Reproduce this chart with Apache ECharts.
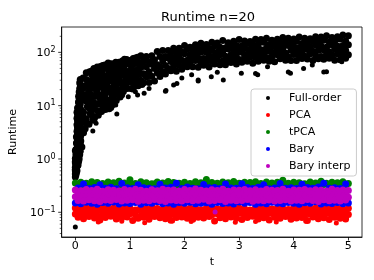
<!DOCTYPE html>
<html><head><meta charset="utf-8">
<script src="https://cdn.jsdelivr.net/npm/echarts@6/dist/echarts.min.js"></script>
<style>html,body{margin:0;padding:0;background:#fff}#c{width:374px;height:280px}</style>
</head><body><div id="c"></div>
<script>
// ---------- texts / ticks ----------
const titleText = 'Runtime n=20';
const xName = 't';
const yName = 'Runtime';
const seriesNames = ['Full-order', 'PCA', 'tPCA', 'Bary', 'Bary interp'];
const seriesColors = ['#000000', '#ff0000', '#008000', '#0000ff', '#bf00bf'];
const xTicks = [0, 1, 2, 3, 4, 5];
const xMin = -0.25, xMax = 5.25;
const yMin = 0.0344, yMax = 299;
const yMajorTicks = [0.1, 1, 10, 100];
const yMinorTicks = [0.04,0.05,0.06,0.07,0.08,0.09,0.2,0.3,0.4,0.5,0.6,0.7,0.8,0.9,2,3,4,5,6,7,8,9,20,30,40,50,60,70,80,90,200];

// ---------- sample times ----------
const tA = [0,0.1,0.2,0.3,0.4,0.5,0.6,0.7,0.8,0.9,1,1.1,1.2,1.3,1.4,1.5,1.6,1.7,1.8,1.9,2,2.1,2.2,2.3,2.4,2.5,2.6,2.7,2.8,2.9,3,3.1,3.2,3.3,3.4,3.5,3.6,3.7,3.8,3.9,4,4.1,4.2,4.3,4.4,4.5,4.6,4.7,4.8,4.9,5];
const tB = [0.05,0.15,0.25,0.35,0.45,0.55,0.65,0.75,0.85,0.95,1.05,1.15,1.25,1.35,1.45,1.55,1.65,1.75,1.85,1.95,2.05,2.15,2.25,2.35,2.45,2.55,2.65,2.75,2.85,2.95,3.05,3.15,3.25,3.35,3.45,3.55,3.65,3.75,3.85,3.95,4.05,4.15,4.25,4.35,4.45,4.55,4.65,4.75,4.85,4.95];

// ---------- Full-order ----------
const fullA1 = [1.43,23.3,41.4,44.5,53.0,56.8,63.3,59.5,65.5,74.6,70.4,78.5,86,84,86,104,108,108,120,120,134,125,139,149,141,155,150,167,152,162,174,164,159,176,174,183,169,176,190,183,178,195,184,180,197,195,205,190,196,212,205];
const fullB2 = [6.6,21.5,26.4,32.7,37.0,35.5,43.8,46.8,49.2,60.6,58.3,63,69,67,73,84,83.3,97.8,99.2,102,116,109,117,123,119,131,125,122,135,135,133,146,142,140,154,140,145,152,151,146,162,146,158,163,156,168,156,164,178,163];
const fullA3 = [0.90,8.5,15.3,20.9,21.3,25.0,28.9,30.4,34.8,44.6,44.1,45.8,52.0,54.0,59.7,58.5,69,78,79.5,81,93.7,89.8,91.7,100,100.5,108,100,104,116,110,109,118,114,123,112,121,127,121,119,134,129,123,133,129,137,132,125,139,132,135,139];
const fullB4 = [2.32,7.5,11.3,15.0,15.8,17.6,21.0,24.0,27.1,34.6,36.1,40.2,39.5,43.3,49.8,53.3,56.5,67.5,66.1,71.3,71.3,81.3,78.2,76.8,85.6,85.2,90.5,84.8,90.5,91,101,92,97,100.5,95,105,99.4,103,97,109,106,105,113,105,109,111,103,115,108,110];
const fullA5 = [0.64,2.79,5.70,8.31,10.7,11.2,12.6,15.2,19.6,22.6,28.1,29.0,29.9,34.7,35.7,41.6,43.4,49.8,56.2,56.8,58.0,64.6,70.4,64.0,68.1,67.9,74,69.2,73.6,77,73.4,83,80.6,79.8,85.6,79.8,83.6,90.5,83.6,83,91,88.6,85.6,94.6,87.4,84,92.3,89.8,93.3,86.8,89.8];
const fullB6 = [0.77,3.12,4.46,5.83,7.65,8.45,9.2,12.5,16.0,21.0,20.6,23.6,26.8,27.3,29.0,35.4,39.2,45.4,44.3,48.1,53.7,53.7,52.5,57.2,53.3,60.3,58.8,58.8,64.6,60.8,65.5,68,62.5,68,71.5,68,67,75.5,71.5,70.6,70,77,74.7,70.6,76,74,77.7,71,72.5,77.5];
const fullStart = [[0,0.053],[0,0.46],[0,0.52],[0,0.6],[0,0.7],[0,0.85],[0,1.02],
 [0.01,0.5],[0.01,0.62],[0.01,0.78],[0.01,0.95],[0.01,1.2],[0.01,1.5],
 [0.02,0.55],[0.02,0.7],[0.02,0.9],[0.02,1.15],[0.02,1.5],[0.02,2.0],[0.02,2.6],
 [0.03,0.6],[0.03,0.8],[0.03,1.05],[0.03,1.4],[0.03,1.9],[0.03,2.5],[0.03,3.3],[0.03,4.4],[0.03,5.8],[0.03,7.5],
 [0.04,0.75],[0.04,1.0],[0.04,1.3],[0.04,1.7],[0.04,2.3],[0.04,3.0],[0.04,4.0],[0.04,5.2],[0.04,7.0],[0.04,9.0],
 [0.06,0.9],[0.06,1.2],[0.06,1.6],[0.06,2.1],[0.06,2.8],[0.06,3.7],[0.06,4.9],[0.06,6.5],[0.06,8.6],[0.06,11.5],[0.06,15],
 [0.07,1.0],[0.07,1.4],[0.07,1.9],[0.07,2.5],[0.07,3.3],[0.07,4.4],[0.07,5.8],[0.07,7.7],[0.07,10],[0.07,13.5],[0.07,18],
 [0.08,1.2],[0.08,1.6],[0.08,2.2],[0.08,2.9],[0.08,3.9],[0.08,5.2],[0.08,6.9],[0.08,9.2],[0.08,12],[0.08,16],[0.08,21],[0.08,27],
 [0.09,1.4],[0.09,1.9],[0.09,2.5],[0.09,3.4],[0.09,4.5],[0.09,6.0],[0.09,8.0],[0.09,10.5],[0.09,14],[0.09,19],[0.09,25],[0.09,31]];
const fullEarly = [[0.11,14.2],[0.09,4.9],[0.12,1.67],[0.19,24.0],[0.22,9.5],[0.18,3.7],
 [0.31,30.5],[0.28,12.9],[0.32,5.35],[0.41,34.5],[0.38,15.1],[0.42,6.6],
 [0.49,38.2],[0.52,17.3],[0.48,7.8],[0.61,40.5],[0.58,19.0],[0.62,8.8],
 [0.69,43.5],[0.72,21.3],[0.68,10.4],[0.81,49.2],[0.78,26.6],[0.82,14.5],
 [0.89,54.6],[0.92,31.6],[0.88,18.5],[1.01,58.2],[0.98,35.0],[1.02,21.0],
 [1.09,61.5],[1.12,37.3],[1.08,22.8],[1.21,64.5],[1.18,39.8],[1.22,24.9],
 [0.06,11.7],[0.04,3.94],[0.05,1.33],[0.14,33.2],[0.16,12.7],[0.13,4.84],
 [0.26,43.4],[0.24,17.6],[0.27,7.1],[0.34,49.7],[0.36,21.4],[0.33,9.3],
 [0.46,54.2],[0.44,24.0],[0.47,10.8],[0.54,58],[0.56,26.9],[0.53,12.4],
 [0.66,61],[0.64,29],[0.67,13.8],[0.74,65],[0.76,33.3],[0.73,17.1],
 [0.86,68.5],[0.84,38.7],[0.87,21.8],[0.94,73.4],[0.96,43.6],[0.93,26],
 [1.06,76.8],[1.04,46.3],[1.07,28],[1.14,81],[1.16,49.3],[1.13,30],
 [0.1,18.7],[0.11,6.4],[0.1,2.18],[0.2,31.1],[0.21,12.0],[0.2,4.7],
 [0.3,38.2],[0.29,16.0],[0.3,6.7],[0.4,42.1],[0.39,18.5],[0.4,8.1],
 [0.5,46.6],[0.51,21.1],[0.5,9.5],[0.6,49],[0.59,23.0],[0.6,10.6],
 [0.7,52.2],[0.71,25.4],[0.7,12.4],[0.8,57.4],[0.79,31],[0.8,16.8],
 [0.9,62.6],[0.91,36.5],[0.9,21.2],[0.05,5.15],[0.06,1.74],
 [0.15,16.2],[0.14,6.2],[0.25,22],[0.26,8.9],[0.35,26.3],[0.34,11.5],
 [0.45,29.4],[0.46,13.1],[0.55,32.5],[0.54,15.1],[0.65,35],[0.66,16.7],
 [0.75,39.5],[0.74,20.2],[0.85,44.7],[0.86,25.2]];
const fullSparse = [[0.32,3.35],[0.38,4.7],[0.74,10.3],[0.76,7.0],[0.97,14.7],[1.1,18.3],[1.14,15.9],[1.26,17.1],[1.35,21.1],[1.65,18.6],[1.66,19.2],[1.8,24.4],[1.86,26],[1.95,33],[2.13,38],[2.25,29],[2.25,30.4],[2.49,35],[2.6,42.5],[2.71,30.4],[3.04,40.5],[3.3,40],[3.34,38],[3.52,54],[3.9,43],[3.94,40.5],[4.18,50],[4.34,58],[4.55,43],[4.6,43.3],[4.88,67]];

// ---------- PCA ----------
const pcaA1 = [0.121,0.115,0.122,0.118,0.112,0.125,0.117,0.120,0.114,0.123,0.119,0.111,0.121,0.116,0.127,0.118,0.113,0.121,0.117,0.124,0.115,0.119,0.122,0.112,0.120,0.125,0.116,0.118,0.123,0.114,0.121,0.117,0.111,0.122,0.119,0.126,0.115,0.120,0.118,0.113,0.124,0.117,0.121,0.116,0.120,0.114,0.123,0.118,0.121,0.115,0.119];
const pcaB2 = [0.102,0.107,0.099,0.105,0.109,0.101,0.104,0.108,0.098,0.106,0.103,0.110,0.100,0.105,0.102,0.108,0.097,0.104,0.107,0.101,0.106,0.099,0.108,0.103,0.105,0.109,0.100,0.104,0.102,0.107,0.098,0.105,0.108,0.101,0.104,0.106,0.100,0.108,0.103,0.099,0.105,0.110,0.102,0.106,0.101,0.104,0.108,0.100,0.105,0.103];
const pcaA3 = [0.093,0.088,0.095,0.090,0.086,0.092,0.097,0.089,0.091,0.087,0.094,0.090,0.085,0.093,0.088,0.096,0.091,0.087,0.092,0.089,0.095,0.086,0.091,0.093,0.088,0.090,0.094,0.087,0.092,0.089,0.096,0.090,0.086,0.093,0.091,0.088,0.095,0.089,0.092,0.087,0.094,0.090,0.088,0.093,0.091,0.086,0.095,0.089,0.092,0.088,0.091];
const pcaB4 = [0.081,0.076,0.083,0.078,0.072,0.080,0.084,0.075,0.079,0.082,0.070,0.077,0.081,0.074,0.083,0.079,0.076,0.071,0.080,0.082,0.077,0.074,0.081,0.078,0.083,0.069,0.079,0.076,0.082,0.077,0.073,0.080,0.084,0.075,0.079,0.072,0.081,0.077,0.083,0.074,0.078,0.080,0.070,0.082,0.076,0.079,0.073,0.081,0.077,0.075];
const pcaExtra = [[0.42,0.066],[0.85,0.068],[1.27,0.064],[1.78,0.069],[2.12,0.067],[2.93,0.065],[3.3,0.067],[3.68,0.066],[4.22,0.068],[4.78,0.063]];

// ---------- tPCA ----------
const tpcaA1 = [0.356,0.368,0.350,0.375,0.362,0.345,0.371,0.359,0.381,0.353,0.407,0.348,0.373,0.360,0.343,0.369,0.355,0.378,0.364,0.351,0.367,0.346,0.376,0.358,0.412,0.363,0.352,0.372,0.357,0.379,0.349,0.367,0.361,0.374,0.345,0.370,0.354,0.365,0.400,0.350,0.368,0.360,0.344,0.371,0.356,0.382,0.352,0.367,0.359,0.373,0.348];
const tpcaB2 = [0.326,0.318,0.334,0.322,0.330,0.314,0.328,0.336,0.320,0.325,0.332,0.316,0.327,0.323,0.338,0.319,0.329,0.324,0.313,0.331,0.326,0.321,0.335,0.317,0.328,0.324,0.333,0.319,0.327,0.322,0.330,0.315,0.326,0.334,0.320,0.329,0.323,0.318,0.331,0.325,0.321,0.336,0.317,0.328,0.324,0.332,0.319,0.327,0.322,0.330];

// ---------- Bary ----------
const baryB1 = [0.285,0.340,0.278,0.292,0.330,0.281,0.296,0.275,0.345,0.288,0.279,0.327,0.290,0.283,0.276,0.336,0.287,0.294,0.350,0.280,0.298,0.284,0.277,0.332,0.289,0.293,0.279,0.338,0.286,0.282,0.342,0.291,0.280,0.295,0.328,0.276,0.287,0.347,0.283,0.290,0.278,0.334,0.292,0.281,0.297,0.352,0.284,0.288,0.279,0.339];
const baryA2 = [0.150,0.144,0.154,0.147,0.142,0.152,0.148,0.156,0.143,0.149,0.146,0.153,0.142,0.151,0.147,0.157,0.145,0.150,0.141,0.152,0.147,0.155,0.144,0.148,0.151,0.141,0.153,0.146,0.149,0.143,0.156,0.147,0.152,0.142,0.150,0.145,0.154,0.148,0.144,0.152,0.147,0.141,0.151,0.148,0.157,0.143,0.149,0.146,0.153,0.145,0.150];

// ---------- Bary interp ----------
const interpA1 = [0.261,0.253,0.269,0.257,0.272,0.249,0.264,0.259,0.251,0.267,0.255,0.271,0.259,0.247,0.265,0.254,0.270,0.258,0.263,0.250,0.268,0.256,0.273,0.260,0.252,0.266,0.257,0.272,0.248,0.262,0.259,0.269,0.254,0.264,0.251,0.267,0.259,0.256,0.271,0.249,0.263,0.258,0.268,0.253,0.265,0.260,0.250,0.270,0.257,0.263,0.255];
const interpB2 = [0.225,0.218,0.232,0.221,0.229,0.215,0.227,0.233,0.220,0.224,0.231,0.216,0.228,0.222,0.234,0.219,0.226,0.214,0.230,0.223,0.217,0.233,0.225,0.220,0.228,0.215,0.231,0.222,0.226,0.235,0.218,0.224,0.229,0.221,0.227,0.213,0.232,0.223,0.219,0.230,0.225,0.216,0.228,0.222,0.233,0.220,0.226,0.217,0.231,0.224];
const interpA3 = [0.195,0.189,0.201,0.192,0.198,0.186,0.196,0.203,0.190,0.194,0.199,0.187,0.197,0.191,0.202,0.193,0.188,0.200,0.195,0.185,0.198,0.192,0.204,0.189,0.196,0.193,0.200,0.187,0.194,0.199,0.191,0.197,0.186,0.202,0.192,0.195,0.189,0.201,0.193,0.198,0.188,0.196,0.203,0.190,0.194,0.199,0.186,0.197,0.192,0.200,0.191];
const interpB4 = [0.167,0.162,0.172,0.165,0.160,0.170,0.166,0.174,0.163,0.168,0.171,0.161,0.169,0.164,0.173,0.166,0.159,0.170,0.167,0.162,0.172,0.165,0.168,0.175,0.163,0.166,0.171,0.160,0.169,0.164,0.167,0.173,0.161,0.168,0.165,0.170,0.163,0.166,0.172,0.162,0.169,0.164,0.174,0.167,0.160,0.171,0.165,0.168,0.163,0.170];
const interpExtra = [[2.56,0.101]];

// ---------- build ----------
function zip(ts, ys) { const n = Math.min(ts.length, ys.length); const out = []; for (let i = 0; i < n; i++) out.push([ts[i], ys[i]]); return out; }
function small(list) { return list.map(p => ({ value: p, symbolSize: 5 })); }
const dataSets = [
  [].concat(small(fullSparse), small([fullStart[0]]), fullStart.slice(1), fullEarly, zip(tA, fullA1), zip(tB, fullB2), zip(tA, fullA3), zip(tB, fullB4), zip(tA, fullA5), zip(tB, fullB6)),
  [].concat(small(pcaExtra), zip(tA, pcaA1), zip(tB, pcaB2), zip(tA, pcaA3), zip(tB, pcaB4)),
  [].concat(zip(tA, tpcaA1), zip(tB, tpcaB2)),
  [].concat(zip(tB, baryB1), zip(tA, baryA2)),
  [].concat(zip(tA, interpA1), zip(tB, interpB2), zip(tA, interpA3), zip(tB, interpB4), small(interpExtra))
];

const font = 'DejaVu Sans';
const chart = echarts.init(document.getElementById('c'), null, { renderer: 'canvas', width: 374, height: 280 });

function yFmt(v) {
  const e = Math.log10(v), r = Math.round(e);
  if (Math.abs(e - r) > 1e-6) return '';
  return '{b|10}{s|' + (r < 0 ? '\u2212' + (-r) : String(r)) + '}';
}

chart.setOption({
  animation: false,
  backgroundColor: '#ffffff',
  title: { text: titleText, left: 161, top: 11, padding: 0,
    textStyle: { fontFamily: font, fontSize: 13, fontWeight: 'normal', color: '#000' } },
  grid: { left: 59, top: 27, width: 303, height: 210, show: true, borderColor: '#000', borderWidth: 0.8, backgroundColor: 'transparent' },
  legend: {
    data: seriesNames, orient: 'vertical', left: 251, top: 89, padding: [3, 6, 4, 15],
    itemWidth: 32, itemHeight: 4, itemGap: 5, icon: 'circle', selectedMode: false,
    textStyle: { fontFamily: font, fontSize: 11, color: '#000', lineHeight: 12 },
    backgroundColor: 'rgba(255,255,255,0.8)', borderColor: '#cccccc', borderWidth: 1, borderRadius: 3
  },
  xAxis: {
    type: 'value', min: xMin, max: xMax, name: xName, nameLocation: 'middle', nameGap: 18,
    nameTextStyle: { fontFamily: font, fontSize: 11, color: '#000' },
    axisLine: { onZero: false, lineStyle: { color: '#000', width: 0.8 } },
    axisTick: { show: true, length: 3.5, customValues: xTicks, lineStyle: { color: '#000', width: 0.8 } },
    axisLabel: { customValues: xTicks, margin: 4, fontFamily: font, fontSize: 11, color: '#000',
      formatter: v => (Math.abs(v - Math.round(v)) < 1e-9 ? String(Math.round(v)) : '') },
    splitLine: { show: false }
  },
  yAxis: {
    type: 'log', logBase: 10, min: yMin, max: yMax, name: yName, nameLocation: 'middle', nameGap: 35, nameRotate: 90,
    nameTextStyle: { fontFamily: font, fontSize: 11, color: '#000' },
    axisLine: { onZero: false, lineStyle: { color: '#000', width: 0.8 } },
    axisTick: { show: false },
    axisLabel: { margin: 6, showMinLabel: false, showMaxLabel: false, formatter: yFmt,
      rich: { b: { fontFamily: font, fontSize: 11, lineHeight: 13, padding: [2, 0, 0, 0], color: '#000' },
              s: { fontFamily: font, fontSize: 8, lineHeight: 8, verticalAlign: 'top', color: '#000' } } },
    splitLine: { show: false }
  },
  series: seriesNames.map((name, i) => ({
    name, type: 'scatter', data: dataSets[i], symbol: 'circle', symbolSize: 7,
    itemStyle: { color: seriesColors[i], opacity: 1 }, silent: true, progressive: 0,
    emphasis: { disabled: true }
  }))
});

// y ticks (major + minor) placed with the axis scale
const x0 = chart.convertToPixel({ xAxisIndex: 0 }, xMin);
const tickEls = [];
yMajorTicks.forEach(v => { const y = chart.convertToPixel({ yAxisIndex: 0 }, v);
  tickEls.push({ type: 'line', silent: true, shape: { x1: x0 - 3.5, y1: y, x2: x0, y2: y }, style: { stroke: '#000', lineWidth: 0.8 } }); });
yMinorTicks.forEach(v => { const y = chart.convertToPixel({ yAxisIndex: 0 }, v);
  tickEls.push({ type: 'line', silent: true, shape: { x1: x0 - 2, y1: y, x2: x0, y2: y }, style: { stroke: '#000', lineWidth: 0.6 } }); });
chart.setOption({ graphic: tickEls });
</script>
</body></html>
